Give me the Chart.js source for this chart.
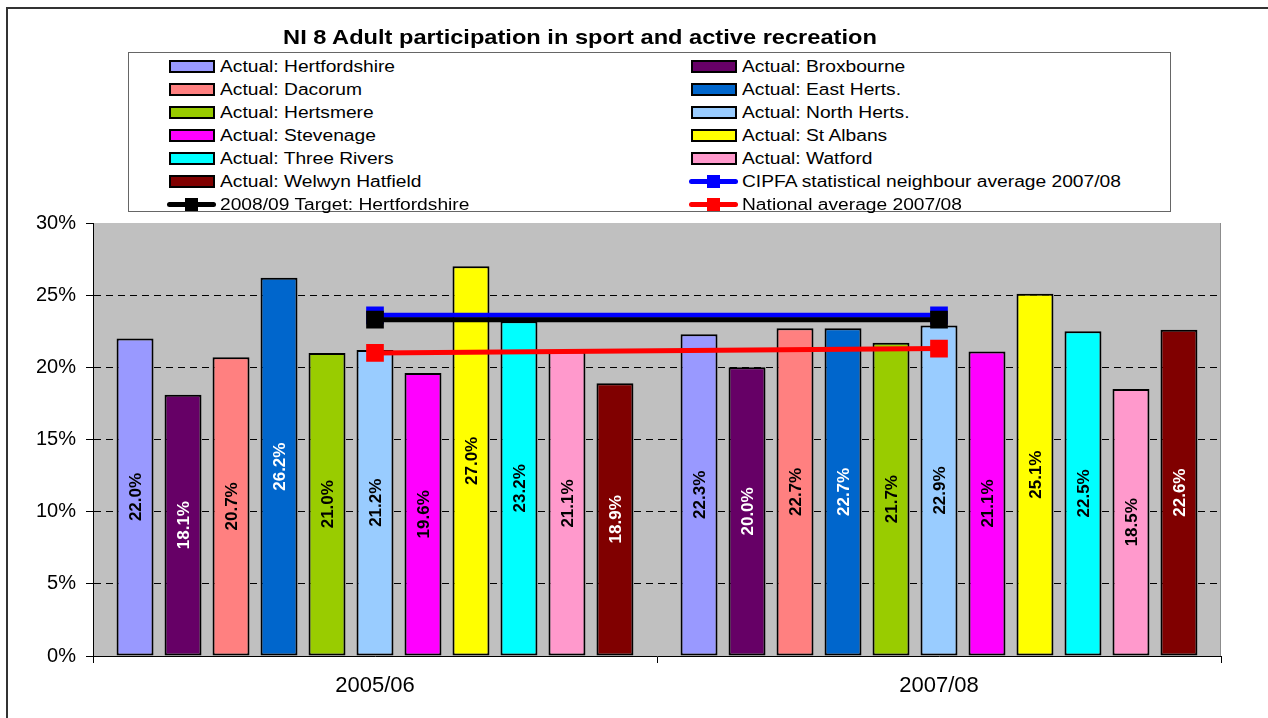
<!DOCTYPE html>
<html>
<head>
<meta charset="utf-8">
<script src="https://cdn.jsdelivr.net/npm/chart.js@4"></script>
<style>
  html, body { margin:0; padding:0; background:#fff; overflow:hidden; }
  body { width:1268px; height:718px; position:relative; font-family:'Liberation Sans', Arial, sans-serif; }
  #frame { position:absolute; left:6px; top:7px; width:1300px; height:800px; border:2px solid #333; }
  #wrap { position:absolute; left:0; top:0; width:1268px; height:718px; }
  #title { position:absolute; left:0; top:25px; width:1160px; text-align:center; font-weight:bold; font-size:21px; color:#000;
           transform:scaleX(1.125); transform-origin:580px 0; }
  #legend { position:absolute; left:128px; top:52px; width:1043px; height:160px; border:1px solid #666; background:#fff;
            display:grid; grid-template-columns:522px 1fr; grid-auto-rows:23px; padding:2px 0 0 38px; box-sizing:border-box; }
  .item { display:flex; align-items:center; font-size:16px; color:#000; white-space:nowrap; }
  .item span.t { display:inline-block; transform:scaleX(1.2); transform-origin:0 50%; }
  .sw { width:46px; height:13px; border:2px solid #000; box-sizing:border-box; margin:0 5px 0 2px; flex:none; }
  .ln { position:relative; width:49px; height:13px; margin:0 4px 0 0; flex:none; }
  .ln i { position:absolute; left:0; right:0; top:4px; height:5px; border-radius:3px; }
  .ln b { position:absolute; left:18px; top:0; width:13px; height:13px; }
</style>
</head>
<body>
<div id="frame"></div>
<div id="wrap"><canvas id="chart"></canvas></div>
<div id="title">NI 8 Adult participation in sport and active recreation</div>
<div id="legend"></div>
<script>
// categories
const years = ['2005/06', '2007/08'];

// bar series (Actual), in legend order
const districts = ['Hertfordshire','Broxbourne','Dacorum','East Herts.','Hertsmere','North Herts.',
                   'Stevenage','St Albans','Three Rivers','Watford','Welwyn Hatfield'];
const barColors = ['#9999FF','#660066','#FF8080','#0066CC','#99CC00','#99CCFF',
                   '#FF00FF','#FFFF00','#00FFFF','#FF99CC','#800000'];
const darkBars  = ['Broxbourne','East Herts.','Welwyn Hatfield'];
const actual0506 = [22.0, 18.1, 20.7, 26.2, 21.0, 21.2, 19.6, 27.0, 23.2, 21.1, 18.9];
const actual0708 = [22.3, 20.0, 22.7, 22.7, 21.7, 22.9, 21.1, 25.1, 22.5, 18.5, 22.6];

// line series
const cipfaAvg    = [23.6, 23.6];
const target      = [23.3, 23.3];
const nationalAvg = [21.0, 21.3];

const yTicks = [0, 5, 10, 15, 20, 25, 30];

const datasets = districts.map((d, i) => ({
  type: 'bar',
  label: 'Actual: ' + d,
  data: [actual0506[i], actual0708[i]],
  backgroundColor: barColors[i],
  borderColor: '#000',
  borderWidth: 2,
  borderSkipped: false,
  barPercentage: 0.77,
  categoryPercentage: 0.936,
  order: 10,
  dark: darkBars.includes(d)
}));

function lineSet(label, data, color, order) {
  return {
    type: 'line', label, data,
    borderColor: color, backgroundColor: color,
    borderWidth: 5, pointStyle: 'rect', pointRadius: 12.5, pointHoverRadius: 12.5,
    pointBorderWidth: 0, fill: false, tension: 0, order
  };
}
datasets.push(lineSet('CIPFA statistical neighbour average 2007/08', cipfaAvg, '#0000FF', 2));
datasets.push(lineSet('2008/09 Target: Hertfordshire', target, '#000000', 0));
datasets.push(lineSet('National average 2007/08', nationalAvg, '#FF0000', 1));

// legend (row-major, two columns)
const legend = document.getElementById('legend');
datasets.forEach(ds => {
  const it = document.createElement('div');
  it.className = 'item';
  if (ds.type === 'bar') {
    it.innerHTML = `<span class="sw" style="background:${ds.backgroundColor}"></span><span class="t">${ds.label}</span>`;
  } else {
    it.innerHTML = `<span class="ln"><i style="background:${ds.borderColor}"></i><b style="background:${ds.borderColor}"></b></span><span class="t">${ds.label}</span>`;
  }
  legend.appendChild(it);
});

const plotBg = {
  id: 'plotBg',
  beforeDraw(chart) {
    const { ctx, chartArea: a } = chart;
    ctx.save();
    ctx.fillStyle = '#C0C0C0';
    ctx.fillRect(a.left, a.top, a.right - a.left, a.bottom - a.top);
    ctx.strokeStyle = '#8c8c8c';
    ctx.lineWidth = 1;
    ctx.beginPath();
    ctx.moveTo(a.right - 0.5, a.top);
    ctx.lineTo(a.right - 0.5, a.bottom);
    ctx.stroke();
    ctx.restore();
  }
};

const barLabels = {
  id: 'barLabels',
  afterDatasetsDraw(chart) {
    const ctx = chart.ctx;
    ctx.save();
    ctx.font = 'bold 17px "Liberation Sans", Arial, sans-serif';
    ctx.textAlign = 'center';
    ctx.textBaseline = 'middle';
    chart.data.datasets.forEach((ds, i) => {
      if (ds.type !== 'bar') return;
      chart.getDatasetMeta(i).data.forEach((bar, j) => {
        const v = ds.data[j];
        const cy = (bar.y + bar.base) / 2;
        ctx.save();
        ctx.translate(bar.x, cy);
        ctx.rotate(-Math.PI / 2);
        ctx.fillStyle = ds.dark ? '#fff' : '#000';
        ctx.fillText(v.toFixed(1) + '%', 0, 1);
        ctx.restore();
      });
    });
    ctx.restore();
  }
};

new Chart(document.getElementById('chart'), {
  type: 'bar',
  data: { labels: years, datasets },
  plugins: [plotBg, barLabels],
  options: {
    responsive: true,
    maintainAspectRatio: false,
    animation: false,
    layout: { padding: { top: 223, right: 47, left: 0, bottom: 0 } },
    plugins: { legend: { display: false }, title: { display: false }, tooltip: { enabled: false } },
    scales: {
      x: {
        afterFit(s) { s.height = 62; },
        grid: { drawOnChartArea: false, drawTicks: true, tickLength: 7, tickColor: '#000', offset: true },
        border: { display: true, color: '#000', width: 1 },
        ticks: { color: '#000', font: { size: 22, family: '"Liberation Sans", Arial, sans-serif' }, padding: 10 }
      },
      y: {
        min: 0, max: 30,
        afterFit(s) { s.width = 93; },
        afterBuildTicks(s) { s.ticks = yTicks.map(v => ({ value: v })); },
        grid: {
          color: c => (c.tick && (c.tick.value === 0 || c.tick.value === 30)) ? 'rgba(0,0,0,0)' : '#000',
          lineWidth: 1, tickLength: 7, tickColor: '#000'
        },
        border: { display: true, color: '#000', width: 1, dash: [7, 5] },
        ticks: { color: '#000', padding: 10, font: { size: 20, family: '"Liberation Sans", Arial, sans-serif' },
                 callback: v => v + '%' }
      }
    }
  }
});
</script>
</body>
</html>
